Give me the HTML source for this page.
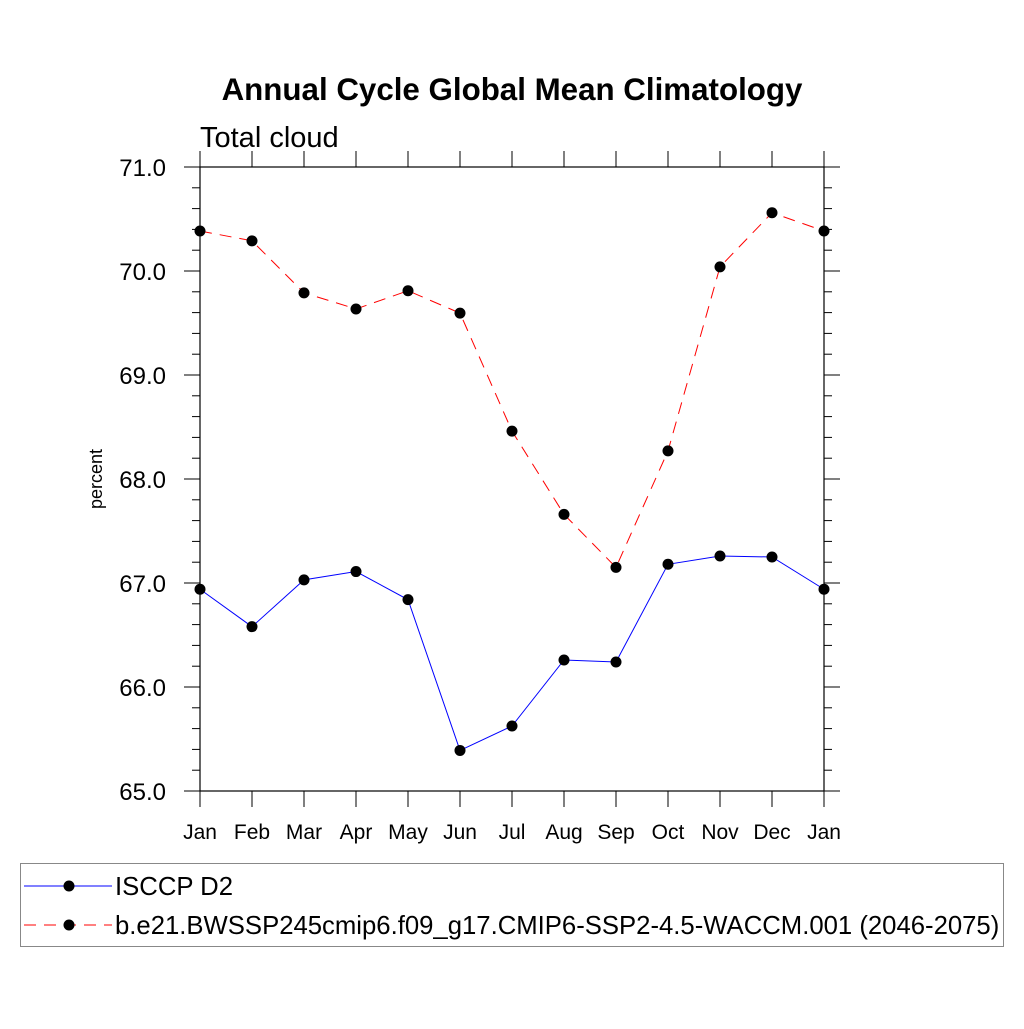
<!DOCTYPE html>
<html><head><meta charset="utf-8"><style>
body{margin:0;background:#fff}
svg text{font-family:"Liberation Sans",sans-serif}
</style></head><body>
<svg id="chart" width="1024" height="1024" xmlns="http://www.w3.org/2000/svg">
<rect width="1024" height="1024" fill="#fff"/>
<text x="512" y="100" font-size="31.3" font-weight="bold" text-anchor="middle">Annual Cycle Global Mean Climatology</text>
<text x="200" y="147" font-size="29">Total cloud</text>
<text transform="translate(102,479) rotate(-90)" font-size="18" text-anchor="middle">percent</text>
<g id="axes"></g>
<g id="series"></g>
<g>
<rect x="20.5" y="863.5" width="983" height="83" fill="none" stroke="#888" stroke-width="1"/>
<line x1="24" y1="886" x2="112" y2="886" stroke="#0000ff" stroke-width="1"/>
<circle cx="69" cy="886" r="5.5" fill="#000"/>
<text x="115" y="895" font-size="25.7">ISCCP D2</text>
<line x1="24" y1="925" x2="112" y2="925" stroke="#ff0000" stroke-width="1" stroke-dasharray="12,8"/>
<circle cx="69" cy="925" r="5.5" fill="#000"/>
<text x="115" y="934" font-size="25.7">b.e21.BWSSP245cmip6.f09_g17.CMIP6-SSP2-4.5-WACCM.001 (2046-2075)</text>
</g>
</svg>
<script>
const months=["Jan","Feb","Mar","Apr","May","Jun","Jul","Aug","Sep","Oct","Nov","Dec","Jan"];
const isccp=[66.94,66.58,67.03,67.11,66.84,65.39,65.625,66.26,66.24,67.18,67.26,67.25,66.94];
const model=[70.385,70.29,69.79,69.635,69.81,69.595,68.46,67.66,67.15,68.27,70.04,70.56,70.385];
const yTicks=[65,66,67,68,69,70,71];
const NS="http://www.w3.org/2000/svg";
const X0=200,X1=824,Y0=791,Y1=167,YMIN=65,YMAX=71;
const xs=i=>X0+(X1-X0)*i/(months.length-1);
const ys=v=>Y0-(v-YMIN)/(YMAX-YMIN)*(Y0-Y1);
const axes=document.getElementById('axes'),ser=document.getElementById('series');
function mk(tag,attrs,parent){const e=document.createElementNS(NS,tag);for(const k in attrs)e.setAttribute(k,attrs[k]);parent.appendChild(e);return e;}
const frame=mk('rect',{x:X0,y:Y1,width:X1-X0,height:Y0-Y1,fill:'none',stroke:'#000','stroke-width':1.2},axes);


for(let v=YMIN;v<=YMAX+1e-9;v+=0.2){
  const y=ys(v);const major=Math.abs(v-Math.round(v))<1e-6;const L=major?16:8;
  mk('line',{x1:X0-L,x2:X0,y1:y,y2:y,stroke:'#000','stroke-width':1},axes);
  mk('line',{x1:X1,x2:X1+L,y1:y,y2:y,stroke:'#000','stroke-width':1},axes);
}
yTicks.forEach(v=>{
  const t=mk('text',{x:166,y:ys(v)+9,'font-size':24,'text-anchor':'end'},axes);
  
  
  t.textContent=v.toFixed(1);
});
months.forEach((m,i)=>{
  const x=xs(i);
  mk('line',{x1:x,x2:x,y1:Y1-16,y2:Y1,stroke:'#000','stroke-width':1},axes);
  mk('line',{x1:x,x2:x,y1:Y0,y2:Y0+16,stroke:'#000','stroke-width':1},axes);
  const t=mk('text',{x:x,y:Y0+48,'font-size':21,'text-anchor':'middle'},axes);
  
  
  t.textContent=m;
});
function draw(vals,color,dash,name){
  const p=mk('polyline',{points:vals.map((v,i)=>xs(i)+','+ys(v)).join(' '),fill:'none',stroke:color,'stroke-width':1,'stroke-dasharray':dash},ser);
  
  
  vals.forEach((v,i)=>{
    const c=mk('circle',{cx:xs(i),cy:ys(v),r:5.5,fill:'#000'},ser);
    
    
  });
}
draw(model,'#ff0000','12,8','model');
draw(isccp,'#0000ff','none','isccp');
</script>
</body></html>
